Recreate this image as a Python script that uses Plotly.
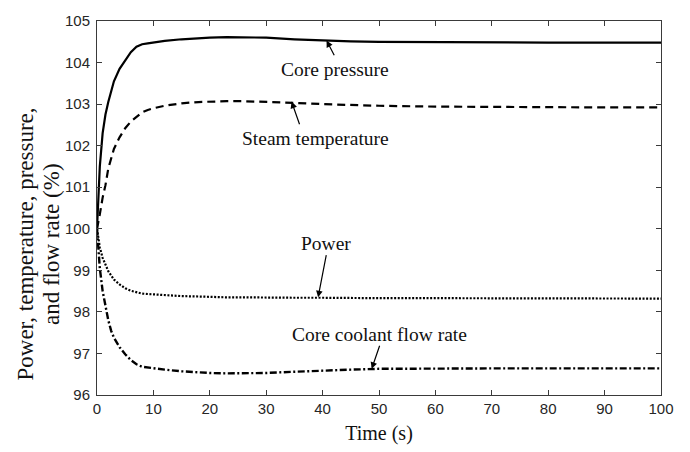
import plotly.graph_objects as go

# ---- data ----
time_s = [0, 0.25, 0.5, 1, 1.5, 2, 2.5, 3, 4, 5, 6, 7, 8, 9, 10, 12, 15, 18, 20,
          23, 26, 30, 35, 40, 45, 50, 60, 70, 80, 90, 100]

core_pressure = [100.0, 100.75, 101.5, 102.3, 102.75, 103.05, 103.3, 103.55, 103.85,
                 104.05, 104.25, 104.38, 104.44, 104.46, 104.48, 104.52, 104.56, 104.59,
                 104.6, 104.61, 104.61, 104.6, 104.56, 104.53, 104.51, 104.5, 104.49,
                 104.49, 104.48, 104.48, 104.48]

steam_temperature = [100.0, 100.15, 100.35, 100.75, 101.05, 101.45, 101.72, 101.92,
                     102.2, 102.42, 102.58, 102.7, 102.8, 102.86, 102.9, 102.96, 103.02,
                     103.05, 103.06, 103.07, 103.07, 103.06, 103.03, 103.0, 102.98,
                     102.96, 102.94, 102.93, 102.93, 102.92, 102.92]

power = [100.0, 99.75, 99.55, 99.3, 99.12, 98.98, 98.88, 98.78, 98.66, 98.57, 98.51,
         98.47, 98.44, 98.43, 98.42, 98.4, 98.38, 98.37, 98.36, 98.35, 98.35, 98.34,
         98.34, 98.34, 98.33, 98.33, 98.33, 98.33, 98.33, 98.32, 98.32]

coolant_flow = [100.0, 99.4, 99.05, 98.5, 98.1, 97.8, 97.55, 97.38, 97.15, 96.98, 96.84,
                96.74, 96.68, 96.66, 96.64, 96.61, 96.57, 96.54, 96.53, 96.52, 96.52,
                96.53, 96.56, 96.59, 96.61, 96.63, 96.64, 96.64, 96.64, 96.64, 96.64]

x_ticks = [0, 10, 20, 30, 40, 50, 60, 70, 80, 90, 100]
y_ticks = [96, 97, 98, 99, 100, 101, 102, 103, 104, 105]

y_title_lines = ["Power, temperature, pressure,", "and flow rate (%)"]
x_title = "Time (s)"

series = [
    ("Core pressure", core_pressure, "solid", 2.2),
    ("Steam temperature", steam_temperature, "8px,5px", 2.2),
    ("Power", power, "2px,1.6px", 2.2),
    ("Core coolant flow rate", coolant_flow, "7px,2.5px,2px,2.5px", 2.4),
]

SERIF = "Liberation Serif, Times New Roman, serif"
SANS = "Liberation Sans, Arial, sans-serif"

fig = go.Figure()
for name, vals, dash, w in series:
    fig.add_trace(go.Scatter(x=time_s, y=vals, mode="lines", name=name,
                             line=dict(color="black", width=w, dash=dash),
                             showlegend=False))

# labels: (text, text_x, text_y, arrow_tip_x, arrow_tip_y, tail_x, tail_y)
labels = [
    ("Core pressure", 42.2, 103.83, 40.7, 104.53, 42.2, 104.14),
    ("Steam temperature", 38.7, 102.17, 34.5, 103.06, 36.0, 102.48),
    ("Power", 40.6, 99.64, 39.2, 98.35, 40.7, 99.40),
    ("Core coolant flow rate", 50.0, 97.45, 48.7, 96.63, 50.2, 97.22),
]
for text, tx, ty, hx, hy, sx, sy in labels:
    fig.add_annotation(x=tx, y=ty, text=text, showarrow=False,
                       xanchor="center", yanchor="middle",
                       font=dict(family=SERIF, size=19.5, color="#111111"))
    fig.add_annotation(x=hx, y=hy, ax=sx, ay=sy, axref="x", ayref="y", text="",
                       showarrow=True, arrowhead=2, arrowsize=1.1, arrowwidth=1.2,
                       arrowcolor="black")

# y-axis title as two rotated lines
for line_text, px in zip(y_title_lines, [-0.1259, -0.0807]):
    fig.add_annotation(xref="paper", yref="paper", x=px, y=0.405, text=line_text,
                       showarrow=False, textangle=-90, xanchor="center", yanchor="middle",
                       font=dict(family=SERIF, size=23, color="#111111"))

axis_common = dict(showline=True, linecolor="#3a3a3a", linewidth=1, mirror="ticks",
                   ticks="inside", ticklen=5, tickcolor="#3a3a3a", tickwidth=1,
                   showgrid=False, zeroline=False,
                   tickfont=dict(family=SANS, size=15, color="#262626"))

fig.update_xaxes(range=[0, 100], tickvals=x_ticks, ticktext=[str(v) for v in x_ticks],
                 title=dict(text=x_title, font=dict(family=SERIF, size=20, color="#111111"),
                            standoff=9),
                 **axis_common)
fig.update_yaxes(range=[96, 105], tickvals=y_ticks, ticktext=[str(v) for v in y_ticks],
                 ticklabelstandoff=3, **axis_common)

fig.update_layout(width=690, height=452, margin=dict(l=97, r=29, t=12, b=55),
                  paper_bgcolor="white", plot_bgcolor="white")

fig.write_html("out.html")
